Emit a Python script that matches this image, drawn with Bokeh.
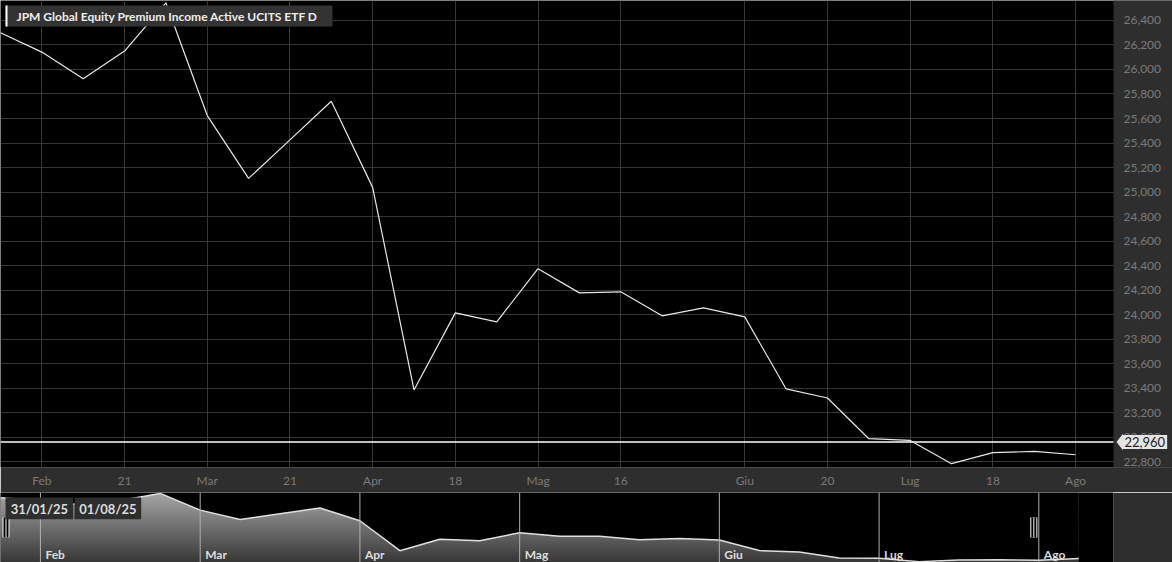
import numpy as np
from bokeh.plotting import figure
from bokeh.layouts import column
from bokeh.models import (Range1d, FixedTicker, NumeralTickFormatter, Span, Label,
                          BoxAnnotation, PolyAnnotation)
from bokeh.core.properties import value
from bokeh.embed import file_html
from bokeh.resources import INLINE

# ---------------- data ----------------
dates = ["2025-01-31", "2025-02-07", "2025-02-14", "2025-02-21", "2025-02-28",
         "2025-03-07", "2025-03-14", "2025-03-21", "2025-03-28", "2025-04-04",
         "2025-04-11", "2025-04-18", "2025-04-25", "2025-05-02", "2025-05-09",
         "2025-05-16", "2025-05-23", "2025-05-30", "2025-06-06", "2025-06-13",
         "2025-06-20", "2025-06-27", "2025-07-04", "2025-07-11", "2025-07-18",
         "2025-07-25", "2025-08-01", "2025-08-08"]
prices = [26300, 26142, 25925, 26150, 26544, 25624, 25111, 25426, 25741, 25038,
          23385, 24014, 23940, 24374, 24177, 24186, 23990, 24055, 23981, 23393,
          23319, 22987, 22973, 22783, 22873, 22883, 22856, 22960]
last_price = 22960
last_price_label = "22,960"

axis_ticks = [1, 3, 5, 7, 9, 11, 13, 15, 18, 20, 22, 24, 26]
axis_labels = ["Feb", "21", "Mar", "21", "Apr", "18", "Mag", "16", "Giu", "20", "Lug", "18", "Ago"]
nav_ticks = [1, 5, 9, 13, 18, 22, 26]
nav_labels = ["Feb", "Mar", "Apr", "Mag", "Giu", "Lug", "Ago"]
y_ticks = [22800, 23000, 23200, 23400, 23600, 23800, 24000, 24200, 24400, 24600,
           24800, 25000, 25200, 25400, 25600, 25800, 26000, 26200, 26400]
title = "JPM Global Equity Premium Income Active UCITS ETF D"
range_from, range_to = "31/01/25", "01/08/25"
sel_start, sel_end = 0, 26

idx = list(range(len(dates)))
n_main = sel_end + 1

# ---------------- layout constants ----------------
TOTAL_W = 1172
PW = 1113            # width of the plotting area (left of the value axis)
FH, BH, NH = 467, 25, 70
STEP = 41.35         # px per point in main chart
X_AX = PW / STEP     # data x where the value axis sits
X_END = TOTAL_W / STEP
Y0, Y1 = 22752, 26563
NX_END = 27.87
NY0, NY1 = 22735, 26595
BG = "#2e2e2e"
FONT = "Lato"

ux = X_END / TOTAL_W
uy = (Y1 - Y0) / FH
nux = NX_END / PW
nuy = (NY1 - NY0) / NH

# ---------------- main chart ----------------
p = figure(frame_width=TOTAL_W, frame_height=FH,
           x_range=Range1d(0, X_END), y_range=Range1d(Y0, Y1),
           y_axis_location="right", output_backend="svg", toolbar_location=None,
           min_border_left=0, min_border_top=0, min_border_right=0, min_border_bottom=BH,
           background_fill_color="black", border_fill_color=BG, outline_line_color=None)

p.xaxis.ticker = FixedTicker(ticks=axis_ticks)
p.xaxis.major_label_overrides = {t: l for t, l in zip(axis_ticks, axis_labels)}
p.yaxis.ticker = FixedTicker(ticks=y_ticks)
p.yaxis.formatter = NumeralTickFormatter(format="0,0")
p.yaxis.fixed_location = X_AX
for ax in (p.xaxis[0], p.yaxis[0]):
    ax.axis_line_color = None
    ax.major_tick_line_color = None
    ax.minor_tick_line_color = None
    ax.major_tick_out = 0
    ax.major_tick_in = 0
    ax.minor_tick_out = 0
    ax.minor_tick_in = 0
    ax.major_label_text_color = "#7a7a7a"
    ax.major_label_text_font = FONT
    ax.major_label_text_font_size = "12px"
p.xaxis.major_label_standoff = 5
p.yaxis.major_label_standoff = 10
p.xgrid.grid_line_color = "#363636"
p.ygrid.grid_line_color = "#363636"

p.add_layout(Span(location=last_price, dimension="width", line_color="white",
                  line_width=1.5, level="underlay"))
# grey panel behind the value axis
p.add_layout(BoxAnnotation(left=X_AX, right=X_END, fill_color=BG, fill_alpha=1,
                           line_color=None, level="underlay"))

p.line(idx[:n_main], prices[:n_main], line_color="#e8e8e8", line_width=1.2)

# price flag on the axis
p.add_layout(PolyAnnotation(xs=[X_AX + 3 * ux, X_AX + 9.5 * ux, X_AX + 9.5 * ux],
                            ys=[last_price, last_price + 8.2 * uy, last_price - 8.2 * uy],
                            fill_color="#e6e6e6", fill_alpha=1, line_color=None, level="overlay"))
p.add_layout(Label(x=X_AX, y=last_price, x_offset=9, text=last_price_label,
                   text_align="left", text_baseline="middle", text_font=FONT,
                   text_font_size="13px", text_color="#222222",
                   background_fill_color="#e6e6e6", background_fill_alpha=1,
                   padding=2, level="overlay"))

# title box
p.add_layout(BoxAnnotation(left=5 * ux, right=332 * ux, top=Y1 - 5 * uy, bottom=Y1 - 26 * uy,
                           fill_color="#333333", fill_alpha=1, line_color=None))
p.add_layout(BoxAnnotation(left=5 * ux, right=7 * ux, top=Y1 - 5 * uy, bottom=Y1 - 26 * uy,
                           fill_color="white", fill_alpha=1, line_color=None))
p.add_layout(Label(x=16 * ux, y=Y1 - 15.5 * uy, text=title, text_align="left",
                   text_baseline="middle", text_font=FONT, text_font_style="bold",
                   text_font_size="12px", text_color="#eeeeee"))

# ---------------- navigator ----------------
n = figure(frame_width=PW, frame_height=NH,
           x_range=Range1d(0, NX_END), y_range=Range1d(NY0, NY1),
           x_axis_location=None, y_axis_location=None,
           output_backend="svg", toolbar_location=None,
           min_border_left=0, min_border_top=0, min_border_right=TOTAL_W - PW, min_border_bottom=0,
           background_fill_color="black", border_fill_color=BG, outline_line_color=None)
n.xgrid.visible = False
n.ygrid.visible = False

# vertical gradient under the series
rows = NH
top_rgb = np.array([0xa6, 0xa6, 0xa6], dtype=float)
bot_rgb = np.array([0x38, 0x38, 0x38], dtype=float)
t = np.linspace(0, 1, rows)[:, None]
rgb = (bot_rgb + (top_rgb - bot_rgb) * t).astype(np.uint8)
img = np.empty((rows, 1), dtype=np.uint32)
view = img.view(dtype=np.uint8).reshape((rows, 1, 4))
view[:, 0, 0:3] = rgb
view[:, 0, 3] = 255
n.image_rgba(image=[img], x=0, y=NY0, dw=idx[-1], dh=NY1 - NY0)
n.varea(x=idx, y1=prices, y2=NY1, fill_color="black")
n.line(idx, prices, line_color="#e0e0e0", line_width=1.5)

n.segment(x0=nav_ticks, y0=NY0, x1=nav_ticks, y1=NY1, line_color="#b0b0b0", line_width=1)
n.text(x=nav_ticks, y=NY0 + 8 * nuy, text=nav_labels, x_offset=5,
       text_font=value(FONT), text_font_style="bold", text_font_size="12px",
       text_color="#dddddd", text_baseline="alphabetic", text_align="left")

# handles
ymid = (NY0 + NY1) / 2
hx = [sel_start + 5.5 * nux, sel_end - 5 * nux]
n.rect(x=hx, y=ymid, width=7, height=20, width_units="screen", height_units="screen",
       fill_color="white", line_color=None)
n.rect(x=hx, y=ymid, width=5, height=20, width_units="screen", height_units="screen",
       fill_color="black", line_color=None)
n.rect(x=hx, y=ymid, width=1, height=20, width_units="screen", height_units="screen",
       fill_color="white", line_color=None)

# range boxes
for (l, r), txt in zip([(5, 72.7), (74, 140.7)], [range_from, range_to]):
    n.add_layout(BoxAnnotation(left=l * nux, right=r * nux, top=NY1 - 5 * nuy,
                               bottom=NY1 - 26.7 * nuy, fill_color="#2e2e2e",
                               fill_alpha=1, line_color=None))
    n.add_layout(Label(x=(l + r) / 2 * nux, y=NY1 - 16 * nuy, text=txt, text_align="center",
                       text_baseline="middle", text_font=FONT, text_font_style="bold",
                       text_font_size="13px", text_color="#dddddd"))

layout = column(p, n, spacing=0)
open("out.html", "w").write(file_html(layout, INLINE))
